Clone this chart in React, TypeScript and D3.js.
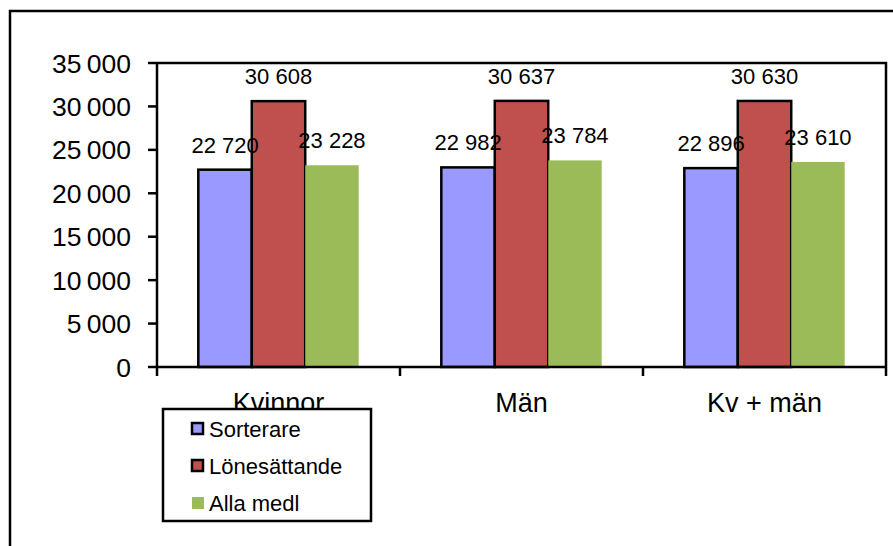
import { useMemo } from 'react';
import * as d3 from 'd3';

const categories = ['Kvinnor', 'Män', 'Kv + män'];
const seriesNames = ['Sorterare', 'Lönesättande', 'Alla medl'];
const sorterare = [22720, 22982, 22896];
const lonesattande = [30608, 30637, 30630];
const allaMedl = [23228, 23784, 23610];
const yTicks = [0, 5000, 10000, 15000, 20000, 25000, 30000, 35000];

const colors = ['#9999FF', '#C0504D', '#9BBB59'];
const outlined = [true, true, false];

const width = 893;
const height = 546;
const plot = { left: 157, right: 886, top: 63, bottom: 367 };

const tickFmt = d3.formatLocale({ decimal: ',', thousands: '\u2009', grouping: [3], currency: ['', ''] }).format(',d');
const labelFmt = d3.formatLocale({ decimal: ',', thousands: ' ', grouping: [3], currency: ['', ''] }).format(',d');

export default function App() {
  const series = [sorterare, lonesattande, allaMedl];

  const x = useMemo(() => d3.scaleBand<string>().domain(categories).range([plot.left, plot.right]).paddingInner(0).paddingOuter(0), []);
  const y = useMemo(() => d3.scaleLinear().domain([0, 35000]).range([plot.bottom, plot.top]), []);
  const groupWidth = x.bandwidth() * 0.66;
  const x1 = d3.scaleBand<number>().domain([0, 1, 2]).range([0, groupWidth]);
  const groupOffset = (x.bandwidth() - groupWidth) / 2;

  const font = '"Liberation Sans", Arial, sans-serif';

  return (
    <div style={{ position: 'absolute', left: 0, top: 0 }}>
      <svg width={width} height={height} style={{ display: 'block', fontFamily: font }}>
        <rect x={0} y={0} width={width} height={height} fill="#fff" />
        <rect x={10} y={11} width={width + 20} height={height + 20} fill="none" stroke="#000" strokeWidth={2.5} />

        {/* plot area frame */}
        <path d={`M${plot.left},${plot.top}H${plot.right}V${plot.bottom}`} fill="none" stroke="#000" strokeWidth={2.5} />

        {/* bars */}
        {categories.map((c, i) => (
          <g key={c} transform={`translate(${(x(c) ?? 0) + groupOffset},0)`}>
            {series.map((s, j) => (
              <rect
                key={j}
                x={x1(j)}
                y={y(s[i])}
                width={x1.bandwidth()}
                height={y(0) - y(s[i])}
                fill={colors[j]}
                stroke={outlined[j] ? '#000' : 'none'}
                strokeWidth={2.5}
              />
            ))}
            {series.map((s, j) => (
              <text
                key={'l' + j}
                x={(x1(j) ?? 0) + x1.bandwidth() / 2}
                y={y(s[i]) - 17}
                textAnchor="middle"
                fontSize={22}
                fill="#000"
              >
                {labelFmt(s[i])}
              </text>
            ))}
          </g>
        ))}

        {/* y axis */}
        <line x1={plot.left} x2={plot.left} y1={plot.top} y2={plot.bottom + 9} stroke="#000" strokeWidth={2.5} />
        {yTicks.map((t) => (
          <g key={t}>
            <line x1={plot.left - 9} x2={plot.left} y1={y(t)} y2={y(t)} stroke="#000" strokeWidth={2.5} />
            <text x={131} y={y(t)} dy="0.36em" textAnchor="end" fontSize={26.5} fill="#000">
              {tickFmt(t)}
            </text>
          </g>
        ))}

        {/* x axis */}
        <line x1={plot.left} x2={plot.right} y1={plot.bottom} y2={plot.bottom} stroke="#000" strokeWidth={2.5} />
        {categories.map((c) => (
          <line key={'t' + c} x1={(x(c) ?? 0) + x.bandwidth()} x2={(x(c) ?? 0) + x.bandwidth()} y1={plot.bottom} y2={plot.bottom + 9} stroke="#000" strokeWidth={2.5} />
        ))}
        {categories.map((c) => (
          <text key={'c' + c} x={(x(c) ?? 0) + x.bandwidth() / 2} y={412} textAnchor="middle" fontSize={27} fill="#000">
            {c}
          </text>
        ))}

        {/* legend */}
        <g>
          <rect x={163} y={409} width={208} height={112} fill="#fff" stroke="#000" strokeWidth={2.5} />
          {seriesNames.map((n, j) => {
            const cy = 429 + j * 37;
            return (
              <g key={n}>
                <rect
                  x={192}
                  y={cy - 6}
                  width={outlined[j] ? 11 : 12}
                  height={outlined[j] ? 11 : 12}
                  fill={colors[j]}
                  stroke={outlined[j] ? '#000' : 'none'}
                  strokeWidth={2.5}
                />
                <text x={209} y={cy} dy="0.36em" fontSize={22} fill="#000">
                  {n}
                </text>
              </g>
            );
          })}
        </g>
      </svg>
    </div>
  );
}
